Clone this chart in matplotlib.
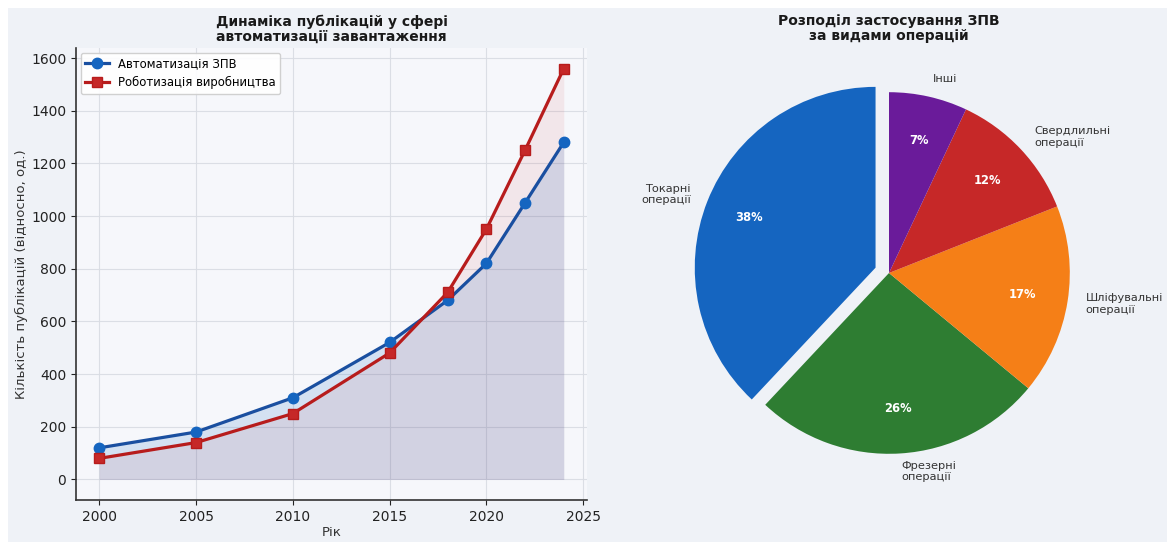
import matplotlib
matplotlib.use("Agg")
import matplotlib.pyplot as plt
from matplotlib.patches import Rectangle

# ---- data ----
years = [2000, 2005, 2010, 2015, 2018, 2020, 2022, 2024]
automation = [120, 180, 310, 520, 680, 820, 1050, 1280]
robotics = [80, 140, 250, 480, 710, 950, 1250, 1560]
series_labels = ["Автоматизація ЗПВ", "Роботизація виробництва"]

pie_labels = ["Токарні\nоперації", "Фрезерні\nоперації", "Шліфувальні\nоперації",
              "Свердлильні\nоперації", "Інші"]
pie_values = [38, 26, 17, 12, 7]
pie_colors = ["#1565C0", "#2E7D32", "#F57F17", "#C62828", "#6A1B9A"]
explode = [0.08, 0, 0, 0, 0]

plt.rcParams["font.family"] = ["DejaVu Sans"]

W, H = 1167, 542
fig = plt.figure(figsize=(W / 100, H / 100), dpi=100, facecolor="white")
fig.patches.append(Rectangle((8 / W, 0), 1 - 8 / W, 1 - 8 / H, transform=fig.transFigure,
                             facecolor="#eff2f7", edgecolor="none", zorder=-10))

# ---- left: line chart ----
ax = fig.add_axes([76 / W, 1 - 500 / H, (587 - 76) / W, (500 - 48) / H])
ax.set_facecolor("#f6f7fb")
blue_line, red_line = "#1A4FA0", "#B71C1C"
ax.fill_between(years, 0, automation, color="#1565C0", alpha=0.15, linewidth=0)
ax.fill_between(years, 0, robotics, color="#C62828", alpha=0.08, linewidth=0)
ax.plot(years, automation, color=blue_line, lw=2.3, marker="o", ms=7.5,
        mfc="#1565C0", mec="#1565C0", label=series_labels[0], zorder=3)
ax.plot(years, robotics, color=red_line, lw=2.3, marker="s", ms=7,
        mfc="#C62828", mec="#B71C1C", label=series_labels[1], zorder=3)
ax.grid(True, color="#d9dce3", lw=0.8, alpha=0.9)
ax.set_axisbelow(True)
for s in ["top", "right"]:
    ax.spines[s].set_visible(False)
for s in ["left", "bottom"]:
    ax.spines[s].set_color("#333333")
    ax.spines[s].set_linewidth(1.2)
ax.tick_params(labelsize=10, colors="#222222")
ax.set_xticks([2000, 2005, 2010, 2015, 2020, 2025])
ax.set_xlabel("Рік", fontsize=9.5, color="#333333", labelpad=2)
ax.set_ylabel("Кількість публікацій (відносно, од.)", fontsize=9.5, color="#333333",
              labelpad=2)
ax.set_title("Динаміка публікацій у сфері\nавтоматизації завантаження",
             fontsize=10, fontweight="bold", color="#1a1a1a", pad=5, linespacing=1.1)
leg = ax.legend(loc="upper left", fontsize=8.4, frameon=True, facecolor="white",
                edgecolor="#cccccc", framealpha=0.9, handlelength=2.0,
                borderaxespad=0.4)

# ---- right: pie chart ----
axp = fig.add_axes([663 / W, 1 - 499 / H, 452 / W, 452 / H])
wedges, texts, autotexts = axp.pie(
    pie_values, labels=pie_labels, colors=pie_colors, explode=explode,
    startangle=90, counterclock=True, autopct="%1.0f%%", pctdistance=0.75,
    labeldistance=1.1, textprops={"fontsize": 8.2, "color": "#333333"},
    wedgeprops={"linewidth": 0.5, "edgecolor": "none"})
for t in autotexts:
    t.set_color("white")
    t.set_fontweight("bold")
    t.set_fontsize(8.3)
axp.set_aspect("equal")
axp.set_title("Розподіл застосування ЗПВ\nза видами операцій",
              fontsize=10, fontweight="bold", color="#1a1a1a", pad=5, linespacing=1.1)

fig.savefig("out.png", dpi=100, facecolor=fig.get_facecolor())
